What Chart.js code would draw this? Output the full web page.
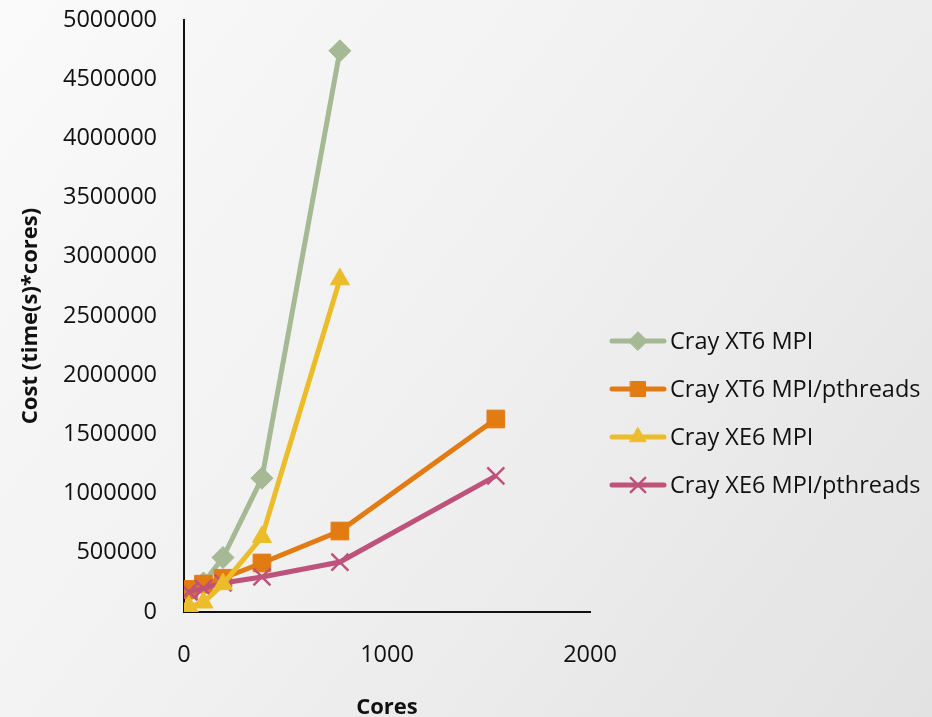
<!DOCTYPE html>
<html>
<head>
<meta charset="utf-8">
<script src="https://cdn.jsdelivr.net/npm/chart.js@4/dist/chart.umd.min.js"></script>
<style>
  html, body { margin: 0; padding: 0; }
  #c { display: block; }
</style>
</head>
<body>
<canvas id="c" width="932" height="717"></canvas>
<script>
// Cost (time × cores) against core count for each machine / programming model
const seriesNames = ['Cray XT6 MPI', 'Cray XT6 MPI/pthreads', 'Cray XE6 MPI', 'Cray XE6 MPI/pthreads'];

const xt6MpiCores = [24, 96, 192, 384, 768];
const xt6MpiCost  = [170000, 245000, 460000, 1130000, 4740000];

const xt6HybridCores = [24, 96, 192, 384, 768, 1536];
const xt6HybridCost  = [190000, 235000, 285000, 414000, 684000, 1630000];

const xe6MpiCores = [24, 96, 192, 384, 768];
const xe6MpiCost  = [45000, 80000, 235000, 633000, 2810000];

const xe6HybridCores = [24, 96, 192, 384, 768, 1536];
const xe6HybridCost  = [170000, 200000, 245000, 296000, 422000, 1150000];

const xTicks = [0, 1000, 2000];
const yTicks = [0, 500000, 1000000, 1500000, 2000000, 2500000, 3000000, 3500000, 4000000, 4500000, 5000000];

const xTitle = 'Cores';
const yTitle = 'Cost (time(s)*cores)';

const FONT = "'Open Sans', sans-serif";
const colors = ['#a4b994', '#e27b12', '#ebbd2b', '#bf527b'];
const styles = [
  { pointStyle: 'rectRot',  radius: 11, borderWidth: 1 },
  { pointStyle: 'rect',     radius: 12.5, borderWidth: 1 },
  { pointStyle: 'triangle', radius: 11, borderWidth: 1 },
  { pointStyle: 'crossRot', radius: 12, borderWidth: 2.5 }
];

function pairs(xs, ys) { return xs.map((x, i) => ({ x: x, y: ys[i] })); }
const seriesData = [
  pairs(xt6MpiCores, xt6MpiCost),
  pairs(xt6HybridCores, xt6HybridCost),
  pairs(xe6MpiCores, xe6MpiCost),
  pairs(xe6HybridCores, xe6HybridCost)
];
// later series sit on top
const drawOrder = [3, 2, 0, 1];

const datasets = seriesNames.map((name, i) => ({
  label: name,
  data: seriesData[i],
  borderColor: colors[i],
  backgroundColor: colors[i],
  borderWidth: 5,
  pointStyle: styles[i].pointStyle,
  pointRadius: styles[i].radius,
  pointHoverRadius: styles[i].radius,
  pointBorderWidth: styles[i].borderWidth,
  pointBorderColor: colors[i],
  pointBackgroundColor: colors[i],
  tension: 0,
  order: drawOrder[i]
}));

const backgroundPlugin = {
  id: 'pageBackground',
  beforeDraw(chart) {
    const { ctx, width, height } = chart;
    ctx.save();
    const g = ctx.createLinearGradient(0, 0, width, height);
    g.addColorStop(0, '#fafafa');
    g.addColorStop(0.5, '#f0f0f0');
    g.addColorStop(1, '#e2e2e2');
    ctx.fillStyle = g;
    ctx.fillRect(0, 0, width, height);
    ctx.restore();
  }
};

// line-and-marker legend to the right of the plot
const sideLegend = {
  id: 'sideLegend',
  afterDraw(chart) {
    const { ctx, chartArea } = chart;
    const x0 = chartArea.right + 20;
    const lineLen = 56;
    const y0 = 341;
    const gap = 48;
    ctx.save();
    seriesNames.forEach((name, i) => {
      const y = y0 + i * gap;
      ctx.strokeStyle = colors[i];
      ctx.lineWidth = 5;
      ctx.lineCap = 'round';
      ctx.beginPath();
      ctx.moveTo(x0 + 2, y);
      ctx.lineTo(x0 + lineLen - 2, y);
      ctx.stroke();
      ctx.fillStyle = colors[i];
      ctx.lineWidth = styles[i].borderWidth;
      Chart.helpers.drawPoint(ctx, {
        pointStyle: styles[i].pointStyle,
        radius: styles[i].radius * 0.85,
        rotation: 0,
        borderWidth: styles[i].borderWidth
      }, x0 + lineLen / 2, y);
      ctx.fillStyle = '#111';
      ctx.font = '23.5px ' + FONT;
      ctx.textBaseline = 'middle';
      ctx.textAlign = 'left';
      ctx.fillText(name, x0 + lineLen + 4, y + 1);
    });
    ctx.restore();
  }
};

new Chart(document.getElementById('c'), {
  type: 'line',
  data: { datasets: datasets },
  plugins: [backgroundPlugin, sideLegend],
  options: {
    responsive: false,
    animation: false,
    layout: { padding: { left: 0, right: 342, top: 20, bottom: 0 } },
    plugins: {
      legend: { display: false },
      tooltip: { enabled: false }
    },
    scales: {
      x: {
        type: 'linear',
        min: 0,
        max: 2000,
        afterBuildTicks(scale) { scale.ticks = xTicks.map(v => ({ value: v })); },
        afterFit(scale) { scale.height = 105; },
        grid: { display: false },
        border: { display: true, color: '#111', width: 2 },
        ticks: {
          color: '#111', font: { family: FONT, size: 23.5 }, padding: 21, maxRotation: 0,
          callback: v => String(v)
        },
        title: {
          display: true, text: xTitle, color: '#111',
          font: { family: FONT, size: 22, weight: 'bold', lineHeight: 0.8 },
          padding: { top: 0, bottom: 0 }
        }
      },
      y: {
        type: 'linear',
        min: 0,
        max: 5000000,
        afterBuildTicks(scale) { scale.ticks = yTicks.map(v => ({ value: v })); },
        afterFit(scale) {
          scale.width = 184;
          scale.paddingTop = 0;
          scale.paddingBottom = 0;
        },
        grid: { display: false },
        border: { display: true, color: '#111', width: 2 },
        ticks: {
          color: '#111', font: { family: FONT, size: 23.5 }, padding: 19,
          callback: v => String(v)
        },
        title: {
          display: true, text: yTitle, color: '#111',
          font: { family: FONT, size: 22, weight: 'bold' },
          padding: { top: 18, bottom: 0 }
        }
      }
    }
  }
});
</script>
</body>
</html>
